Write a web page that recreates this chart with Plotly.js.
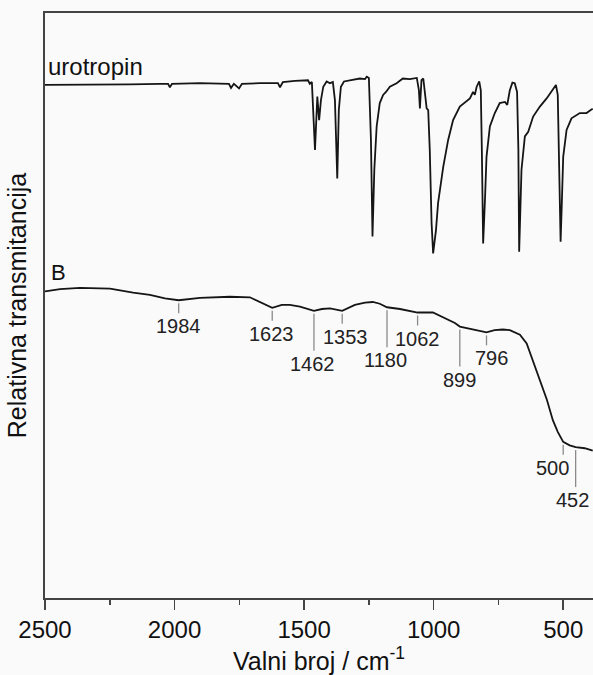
<!DOCTYPE html>
<html>
<head>
<meta charset="utf-8">
<script src="https://cdn.plot.ly/plotly-3.0.1.min.js"></script>
<style>
  html, body { margin: 0; padding: 0; background: #fafafa; }
  #chart { width: 593px; height: 675px; }
</style>
</head>
<body>
<div id="chart"></div>
<script>
// ---- Data (wavenumber / cm^-1, relative transmittance in arbitrary units) ----
const seriesNames = ['urotropin', 'B'];

const wnUro = [2500, 2403, 2288, 2172, 2056, 2025, 2018, 2010, 1902, 1806, 1790, 1782, 1771, 1751, 1740,
  1670, 1601, 1593, 1582, 1535, 1497, 1485, 1478, 1470, 1458, 1452, 1449, 1442, 1435, 1426, 1413, 1400,
  1389, 1381, 1372, 1366, 1358, 1346, 1323, 1285, 1265, 1258, 1250, 1242, 1236, 1229, 1220, 1208, 1195,
  1184, 1169, 1143, 1119, 1092, 1065, 1057, 1053, 1047, 1040, 1034, 1027, 1021, 1015, 1008, 1002, 991,
  983, 963, 944, 925, 899, 860, 848, 841, 834, 824, 818, 814, 809, 802, 796, 783, 764, 745, 725, 716,
  706, 696, 687, 678, 673, 670, 665, 661, 648, 635, 616, 590, 564, 539, 528, 521, 515, 510, 505, 500,
  487, 468, 436, 410, 391, 386];
const tUro = [87.7, 87.7, 87.8, 87.8, 87.9, 87.9, 87.3, 87.9, 88.0, 88.0, 87.9, 87.2, 87.9, 87.1, 87.9,
  88.0, 88.0, 87.3, 88.2, 88.4, 88.5, 88.5, 87.9, 88.2, 76.6, 83.4, 85.7, 81.7, 85.1, 87.4, 88.3, 88.0,
  88.2, 85.1, 71.7, 83.4, 87.4, 88.3, 88.5, 88.8, 88.7, 89.1, 88.9, 78.3, 61.8, 73.2, 80.6, 84.6, 86.0,
  86.5, 87.4, 88.0, 88.8, 88.7, 88.9, 86.8, 83.7, 88.5, 88.8, 86.8, 83.7, 83.4, 76.6, 64.1, 58.9, 62.9,
  67.5, 73.7, 78.3, 81.7, 84.0, 85.4, 86.5, 86.0, 87.4, 88.3, 86.8, 76.6, 60.6, 68.0, 75.4, 80.6, 82.9, 84.6, 84.8, 84.3,
  86.8, 88.1, 88.0, 86.5, 76.6, 59.2, 68.0, 73.2, 78.9, 79.7, 82.3, 84.0, 85.4, 87.1, 87.7, 86.0, 74.9, 60.9, 68.0, 75.4,
  80.0, 82.0, 82.9, 82.9, 83.5, 83.6];

const wnB = [2500, 2442, 2365, 2249, 2160, 2095, 2037, 1984, 1902, 1786, 1709, 1663, 1623, 1586, 1555,
  1516, 1462, 1431, 1400, 1353, 1304, 1265, 1235, 1208, 1180, 1130, 1062, 1003, 957, 918, 899, 860, 822,
  796, 765, 733, 706, 667, 641, 625, 610, 590, 563, 540, 521, 500, 475, 452, 417, 386];
const tB = [52.4, 52.8, 53.0, 52.9, 52.2, 51.8, 51.2, 50.9, 51.3, 51.5, 51.4, 50.4, 49.6, 50.1, 50.1,
  49.8, 49.1, 49.4, 49.5, 49.1, 50.1, 50.5, 50.6, 50.3, 49.7, 49.4, 48.8, 48.8, 47.8, 47.0, 46.4, 46.0, 45.6,
  45.4, 45.8, 45.9, 45.8, 45.0, 43.5, 41.5, 39.5, 37.3, 33.9, 30.4, 28.4, 26.7, 26.1, 25.8, 25.6, 25.2];

const peakWn = [1984, 1623, 1462, 1353, 1180, 1062, 899, 796, 500, 452];
const peakLabels = ['1984', '1623', '1462', '1353', '1180', '1062', '899', '796', '500', '452'];

const xTickVals = [2500, 2000, 1500, 1000, 500];
const xTickText = ['2500', '2000', '1500', '1000', '500'];

// ---- Presentation settings ----
const longTick = [false, false, true, false, true, false, true, false, false, true];
const labelShift = [0, -1, -1, 3, -2, 0, 0, 5, -11, -3];
const FONT = 'Liberation Sans, Arial, sans-serif';

function valueAt(xs, ys, x) {
  for (let i = 0; i < xs.length - 1; i++) {
    const a = xs[i], b = xs[i + 1];
    if ((x <= a && x >= b) || (x >= a && x <= b)) {
      const t = (x - a) / (b - a);
      return ys[i] + t * (ys[i + 1] - ys[i]);
    }
  }
  return ys[ys.length - 1];
}

const traces = [
  { x: wnUro, y: tUro, name: seriesNames[0], type: 'scatter', mode: 'lines',
    line: { color: '#151515', width: 1.8 }, hoverinfo: 'skip' },
  { x: wnB, y: tB, name: seriesNames[1], type: 'scatter', mode: 'lines',
    line: { color: '#151515', width: 1.8 }, hoverinfo: 'skip' }
];

const shapes = [];
const annotations = [];
peakWn.forEach((wn, i) => {
  const yv = valueAt(wnB, tB, wn);
  const len = longTick[i] ? 37 : 10;
  shapes.push({
    type: 'line', xref: 'x', yref: 'y', ysizemode: 'pixel', yanchor: yv,
    x0: wn, x1: wn, y0: -3, y1: -3 - len,
    line: { color: '#8a8a8a', width: 1.3 }
  });
  annotations.push({
    x: wn, y: yv, xref: 'x', yref: 'y', text: peakLabels[i], showarrow: false,
    xanchor: 'center', yanchor: 'top', yshift: -(3 + len), xshift: labelShift[i],
    font: { family: FONT, size: 20, color: '#222' }
  });
});

annotations.push({
  x: wnUro[0], y: tUro[0], xref: 'x', yref: 'y', text: seriesNames[0], showarrow: false,
  xanchor: 'left', yanchor: 'bottom', xshift: 1, yshift: 3,
  font: { family: FONT, size: 24, color: '#111' }
});
annotations.push({
  x: wnB[0], y: tB[0], xref: 'x', yref: 'y', text: seriesNames[1], showarrow: false,
  xanchor: 'left', yanchor: 'bottom', xshift: 4, yshift: 4,
  font: { family: FONT, size: 22, color: '#111' }
});

const layout = {
  width: 593, height: 675,
  margin: { l: 45, r: 0, t: 13, b: 77 },
  paper_bgcolor: '#fafafa', plot_bgcolor: '#fafafa',
  showlegend: false,
  font: { family: FONT, color: '#111' },
  xaxis: {
    range: [2500, 385],
    tickmode: 'array', tickvals: xTickVals, ticktext: xTickText,
    ticks: 'outside', ticklen: 10, tickwidth: 1.5, tickcolor: '#444',
    minor: { dtick: 250, tick0: 0, ticks: 'outside', ticklen: 5, tickwidth: 1.5, tickcolor: '#444' },
    showline: true, linecolor: '#444', linewidth: 1.6, mirror: true,
    showgrid: false, zeroline: false,
    tickfont: { family: FONT, size: 24, color: '#111' },
    title: { text: 'Valni broj / cm<sup>-1</sup>', font: { family: FONT, size: 25, color: '#111' }, standoff: 6 }
  },
  yaxis: {
    range: [0, 100],
    showticklabels: false, ticks: '', showgrid: false, zeroline: false,
    showline: true, linecolor: '#444', linewidth: 1.6, mirror: false,
    title: { text: 'Relativna transmitancija', font: { family: FONT, size: 25, color: '#111' }, standoff: 9 }
  },
  shapes: shapes,
  annotations: annotations
};

Plotly.newPlot('chart', traces, layout, { displayModeBar: false, staticPlot: true });
</script>
</body>
</html>
